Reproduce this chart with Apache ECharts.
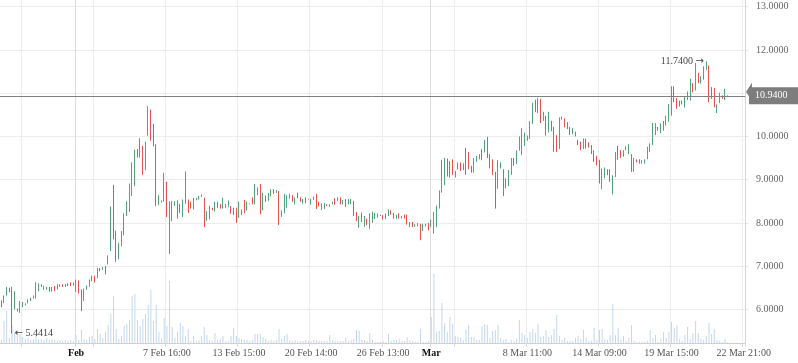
<!DOCTYPE html>
<html><head><meta charset="utf-8">
<script src="https://cdn.jsdelivr.net/npm/echarts@6/dist/echarts.min.js"></script>
<style>html,body{margin:0;padding:0;background:#fff}#chart{width:798px;height:363px}</style>
</head><body><div id="chart"></div>
<script>
// ---------- data ----------
const categoryCount = 279;
const tickIndex = [8, 28, 35, 62, 89, 116, 143, 161, 170, 197, 224, 251, 278];
const tickText  = ['', 'Feb', '', '7 Feb 16:00', '13 Feb 15:00', '20 Feb 14:00', '26 Feb 13:00', 'Mar', '', '8 Mar 11:00', '14 Mar 09:00', '19 Mar 15:00', '22 Mar 21:00'];
const monthLabels = ['Feb', 'Mar'];
const yTickValues = [6, 7, 8, 9, 10, 11, 12, 13];
const lastPrice = 10.94;

// [open, close, low, high]
const candles = [
[6.21,6.05,6.05,6.21],[6.14,6.32,6.14,6.32],[6.32,6.52,6.32,6.52],[6.50,6.40,6.40,6.50],[6.52,5.98,5.4414,6.52],
[6.00,6.42,6.00,6.42],[6.02,5.95,5.95,6.02],[5.92,6.19,5.92,6.19],[6.05,6.17,6.05,6.17],[6.09,6.14,6.09,6.14],
[6.14,6.23,6.14,6.23],[6.19,6.27,6.19,6.27],[6.25,6.32,6.25,6.32],[6.25,6.63,6.25,6.63],[6.42,6.60,6.42,6.60],
[6.58,6.52,6.52,6.58],[6.45,6.55,6.45,6.55],[6.45,6.52,6.45,6.52],[6.52,6.41,6.41,6.52],[6.52,6.41,6.41,6.52],
[6.54,6.42,6.42,6.54],[6.46,6.58,6.46,6.58],[6.58,6.52,6.52,6.58],[6.58,6.52,6.52,6.58],[6.58,6.52,6.52,6.58],
[6.60,6.54,6.54,6.60],[6.62,6.54,6.54,6.62],[6.62,6.55,6.55,6.62],[6.40,6.69,6.40,6.69],[6.67,6.37,6.37,6.67],
[6.46,5.96,5.96,6.46],[6.19,6.48,6.19,6.48],[6.45,6.55,6.45,6.55],[6.52,6.69,6.52,6.69],[6.78,6.65,6.65,6.78],
[6.78,6.62,6.62,6.78],[6.72,6.96,6.72,6.96],[6.88,6.96,6.88,6.96],[6.91,6.98,6.91,6.98],[7.00,6.81,6.81,7.00],
[7.04,7.25,7.04,7.25],[7.35,8.38,7.35,8.38],[8.88,7.62,7.62,8.88],[7.82,7.10,7.10,7.82],[7.16,7.53,7.16,7.53],
[7.46,7.81,7.46,7.81],[7.71,8.22,7.71,8.22],[8.16,8.50,8.16,8.50],[8.25,8.91,8.25,8.91],[8.62,9.40,8.62,9.40],
[8.85,9.69,8.85,9.69],[9.71,9.51,9.51,9.71],[9.51,9.96,9.51,9.96],[9.78,9.11,9.11,9.78],[9.22,9.88,9.22,9.88],
[10.02,10.70,10.02,10.70],[10.62,9.90,9.90,10.62],[10.29,9.77,9.77,10.29],[9.82,8.39,8.39,9.82],[8.41,8.64,8.41,8.64],
[8.50,8.50,8.47,8.52],[8.49,9.16,8.49,9.16],[8.95,8.13,8.13,8.95],[8.10,8.50,7.28,8.50],[8.04,8.50,8.04,8.50],
[8.39,8.50,8.39,8.50],[8.52,8.10,8.10,8.52],[8.44,8.23,8.23,8.44],[8.13,8.54,8.13,8.54],[8.44,9.19,8.44,9.19],
[8.54,8.23,8.23,8.54],[8.49,8.33,8.33,8.49],[8.31,8.58,8.31,8.58],[8.52,8.58,8.52,8.58],[8.54,8.62,8.54,8.62],
[8.60,8.66,8.60,8.66],[8.58,7.90,7.90,8.58],[8.05,8.27,8.05,8.27],[8.08,8.40,8.08,8.40],[8.35,8.29,8.29,8.35],
[8.26,8.49,8.26,8.49],[8.49,8.35,8.35,8.49],[8.44,8.33,8.33,8.44],[8.33,8.58,8.33,8.58],[8.44,8.35,8.35,8.44],
[8.36,8.52,8.36,8.52],[8.39,8.21,8.21,8.39],[8.35,8.18,8.18,8.35],[8.35,8.00,8.00,8.35],[8.12,8.49,8.12,8.49],
[8.18,8.31,8.18,8.31],[8.53,8.22,8.22,8.53],[8.29,8.49,8.29,8.49],[8.44,8.44,8.43,8.45],[8.59,8.43,8.43,8.59],
[8.43,8.90,8.43,8.90],[8.64,8.82,8.64,8.82],[8.90,8.20,8.20,8.90],[8.29,8.70,8.29,8.70],[8.63,8.49,8.49,8.63],
[8.51,8.69,8.51,8.69],[8.61,8.78,8.61,8.78],[8.78,8.67,8.67,8.78],[8.69,8.76,8.69,8.76],[8.74,7.95,7.95,8.74],
[8.14,8.29,8.14,8.29],[8.22,8.67,8.22,8.67],[8.35,8.64,8.35,8.64],[8.56,8.67,8.56,8.67],[8.64,8.49,8.49,8.64],
[8.43,8.59,8.43,8.59],[8.70,8.57,8.57,8.70],[8.59,8.49,8.49,8.59],[8.44,8.55,8.44,8.55],[8.59,8.45,8.45,8.59],
[8.55,8.55,8.54,8.56],[8.42,8.56,8.42,8.56],[8.53,8.61,8.53,8.61],[8.67,8.32,8.32,8.67],[8.49,8.38,8.38,8.49],
[8.30,8.45,8.30,8.45],[8.32,8.46,8.32,8.46],[8.43,8.39,8.39,8.43],[8.37,8.43,8.37,8.43],[8.43,8.49,8.43,8.49],
[8.57,8.42,8.42,8.57],[8.59,8.51,8.51,8.59],[8.59,8.43,8.43,8.59],[8.43,8.53,8.43,8.53],[8.55,8.37,8.37,8.55],
[8.43,8.55,8.43,8.55],[8.43,8.55,8.43,8.55],[8.51,8.16,8.16,8.51],[8.25,8.04,8.04,8.25],[7.89,8.16,7.89,8.16],
[8.24,8.02,8.02,8.24],[7.91,8.16,7.91,8.16],[8.10,7.95,7.95,8.10],[7.86,8.22,7.86,8.22],[8.00,8.26,8.00,8.26],
[8.09,8.23,8.09,8.23],[8.12,8.22,8.12,8.22],[8.17,8.17,8.16,8.19],[8.18,8.08,8.08,8.18],[8.09,8.22,8.09,8.22],
[8.16,8.31,8.16,8.31],[8.29,8.19,8.19,8.29],[8.23,8.10,8.10,8.23],[8.10,8.19,8.10,8.19],[8.22,8.10,8.10,8.22],
[8.10,8.16,8.10,8.16],[8.19,8.10,8.10,8.19],[8.19,7.96,7.96,8.19],[7.90,8.02,7.90,8.02],[8.02,7.90,7.90,8.02],
[7.91,7.97,7.91,7.97],[7.92,8.00,7.92,8.00],[7.98,7.60,7.60,7.98],[7.81,7.98,7.81,7.98],[7.98,7.92,7.92,7.98],
[8.00,7.83,7.83,8.00],[7.91,8.08,7.91,8.08],[7.75,8.25,7.75,8.25],[7.90,8.40,7.90,8.40],[8.33,8.75,8.33,8.75],
[8.70,9.46,8.70,9.46],[8.87,9.50,8.87,9.50],[9.49,9.07,9.07,9.49],[9.43,9.05,9.05,9.43],[9.47,9.11,9.11,9.47],
[9.05,9.20,9.05,9.20],[9.24,9.40,9.24,9.40],[9.40,9.20,9.20,9.40],[9.22,9.38,9.22,9.38],[9.73,9.11,9.11,9.73],
[9.64,9.24,9.24,9.64],[9.32,9.16,9.16,9.32],[9.16,9.50,9.16,9.50],[9.41,9.55,9.41,9.55],[9.47,9.59,9.47,9.59],
[9.71,9.45,9.45,9.71],[9.63,9.92,9.63,9.92],[9.99,9.50,9.50,9.99],[9.59,9.26,9.26,9.59],[9.47,9.11,9.11,9.47],
[9.18,8.33,8.33,9.18],[8.79,9.45,8.79,9.45],[9.26,9.40,9.26,9.40],[9.24,8.62,8.62,9.24],[9.03,8.80,8.80,9.03],
[8.85,9.22,8.85,9.22],[9.11,9.50,9.11,9.50],[9.50,9.32,9.32,9.50],[9.36,9.68,9.36,9.68],[9.67,10.00,9.67,10.00],
[9.57,10.19,9.57,10.19],[9.78,10.09,9.78,10.09],[9.90,10.02,9.90,10.02],[9.94,10.35,9.94,10.35],[10.29,10.78,10.29,10.78],
[10.85,10.56,10.56,10.85],[10.54,10.89,10.54,10.89],[10.87,10.31,10.31,10.87],[10.36,10.57,10.36,10.57],[10.48,10.02,10.02,10.48],
[10.09,10.57,10.09,10.57],[10.36,10.12,10.12,10.36],[10.22,9.64,9.64,10.22],[10.03,9.64,9.64,10.03],[9.71,10.44,9.71,10.44],
[10.46,10.39,10.39,10.46],[10.42,10.21,10.21,10.42],[10.33,10.17,10.17,10.33],[10.22,10.03,10.03,10.22],[10.05,10.19,10.05,10.19],
[10.11,10.00,10.00,10.11],[9.92,9.80,9.80,9.92],[9.88,9.68,9.68,9.88],[9.71,9.95,9.71,9.95],[9.95,9.72,9.72,9.95],
[9.86,9.74,9.74,9.86],[9.80,9.59,9.59,9.80],[9.68,9.41,9.41,9.68],[9.55,9.33,9.33,9.55],[9.46,8.91,8.91,9.46],
[8.78,9.26,8.78,9.26],[9.03,9.28,9.03,9.28],[9.24,9.10,9.10,9.24],[9.24,8.95,8.95,9.24],[8.66,9.10,8.66,9.10],
[9.06,9.64,9.06,9.64],[9.78,9.46,9.46,9.78],[9.68,9.50,9.50,9.68],[9.53,9.68,9.53,9.68],[9.68,9.77,9.68,9.77],
[9.59,9.82,9.59,9.82],[9.59,9.18,9.18,9.59],[9.18,9.50,9.18,9.50],[9.47,9.40,9.40,9.47],[9.47,9.37,9.37,9.47],
[9.37,9.45,9.37,9.45],[9.37,9.47,9.37,9.47],[9.47,9.76,9.47,9.76],[9.64,9.84,9.64,9.84],[9.80,10.31,9.80,10.31],
[10.03,10.31,10.03,10.31],[10.22,10.13,10.13,10.22],[10.08,10.30,10.08,10.30],[10.13,10.36,10.13,10.36],[10.25,10.48,10.25,10.48],
[10.34,10.75,10.34,10.75],[10.48,11.16,10.48,11.16],[11.16,10.79,10.79,11.16],[10.89,10.64,10.64,10.89],[10.69,10.83,10.69,10.83],
[10.83,10.74,10.74,10.83],[10.67,10.92,10.67,10.92],[10.84,11.04,10.84,11.04],[10.83,11.33,10.83,11.33],[11.23,11.02,11.02,11.23],
[11.06,11.70,11.06,11.70],[11.47,11.23,11.23,11.47],[11.22,11.39,11.22,11.39],[11.31,11.62,11.31,11.62],[11.54,11.74,11.54,11.74],
[11.64,10.79,10.79,11.64],[11.14,10.87,10.87,11.14],[11.12,10.67,10.67,11.12],[10.54,10.74,10.54,10.74],[10.77,11.01,10.77,11.01],
[10.95,10.87,10.87,10.95],[10.84,11.10,10.84,11.10],[10.94,10.94,10.93,10.95]
];

// volume (relative units)
const volume = [
3,22,32,5,17,10,12,9,6,4,5,3,4,9,4,4,3,5,3,4,3,2,3,2,3,2,3,2,8,3,13,4,3,6,7,4,14,9,5,11,18,29,47,14,
4,7,17,19,23,47,49,23,17,24,29,38,53,22,38,11,4,25,17,62,16,5,11,20,17,7,14,2,7,2,3,7,16,8,3,2,10,3,4,7,2,2,7,15,7,5,4,
3,3,2,3,9,9,9,6,4,2,3,2,3,14,4,7,9,3,2,3,2,2,2,3,2,2,3,3,2,2,2,2,8,3,2,2,2,2,5,2,3,4,13,12,3,3,2,
10,3,1,1,1,2,1,9,2,3,3,4,2,2,6,3,2,1,1,14,1,1,2,26,69,11,12,40,20,11,26,19,7,6,5,3,13,18,6,6,3,3,17,19,18,5,12,
13,18,5,3,4,1,3,2,4,23,10,8,5,11,14,10,19,6,7,13,6,8,14,28,7,3,5,2,2,2,5,7,4,13,5,2,2,15,3,13,14,4,3,8,39,8,15,
3,7,2,5,18,2,1,1,1,1,2,13,5,8,1,4,11,5,11,21,15,18,4,2,8,16,4,10,22,10,4,3,7,20,9,14,3,2,1,4,1
];

// ---------- chart ----------
const categories = Array.from({length: categoryCount}, (_, i) => {
  const k = tickIndex.indexOf(i);
  return (k >= 0 && tickText[k]) ? tickText[k] : 'slot ' + i;
});
const tickSet = new Set(tickIndex);
const labelSet = new Set(tickIndex.filter((_, k) => tickText[k] !== ''));
const isMonth = t => monthLabels.includes(t);
const splitColors = tickIndex.map((_, k) => isMonth(tickText[k]) ? '#dedede' : '#ededed').concat(['#ededed']);

const UP = '#4fa67a', DOWN = '#e5534b';
const serif = "'Liberation Serif', 'DejaVu Serif', serif";
const arrowFont = "'DejaVu Sans', sans-serif";

const chart = echarts.init(document.getElementById('chart'), null, {renderer: 'canvas'});
chart.setOption({
  animation: false,
  backgroundColor: '#ffffff',
  grid: {left: 0, right: 53, top: 0, bottom: 20, outerBoundsMode: 'none'},
  xAxis: {
    type: 'category', data: categories, boundaryGap: true,
    axisLine: {show: true, lineStyle: {color: '#cfcfcf', width: 1}},
    axisTick: {show: true, interval: i => tickSet.has(i), length: 4, lineStyle: {color: '#d9d9d9'}},
    axisLabel: {
      interval: i => labelSet.has(i), margin: 5, fontSize: 10, fontFamily: serif,
      color: '#555555',
      formatter: v => isMonth(v) ? '{m|' + v + '}' : v,
      rich: {m: {fontSize: 10, fontFamily: serif, fontWeight: 'bold', color: '#111111'}}
    },
    splitLine: {show: true, interval: i => tickSet.has(i), lineStyle: {color: splitColors, width: 1}}
  },
  yAxis: [{
    type: 'value', position: 'right', min: 5.222, max: 13.155,
    axisLine: {show: true, lineStyle: {color: '#d6d6d6'}},
    axisTick: {show: true, length: 3, customValues: yTickValues, lineStyle: {color: '#e0e0e0'}},
    axisLabel: {customValues: yTickValues, formatter: v => v.toFixed(4), margin: 11, fontSize: 10, fontFamily: serif, color: '#666666'},
    splitLine: {show: true, lineStyle: {color: '#ededed', width: 1}}
  }, {
    type: 'value', min: 0, max: 343, show: false
  }],
  series: [{
    type: 'bar', name: 'Volume', xAxisIndex: 0, yAxisIndex: 1, data: volume,
    barWidth: 1, silent: true, z: 1,
    itemStyle: {color: '#c3d7ee'}
  }, {
    type: 'candlestick', name: 'Price', xAxisIndex: 0, yAxisIndex: 0, data: candles,
    barWidth: 0.6, z: 3,
    itemStyle: {color: UP, color0: DOWN, borderColor: UP, borderColor0: DOWN, borderColorDoji: '#8a8a8a', borderWidth: 1},
    markLine: {
      silent: true, symbol: ['none', 'triangle'], symbolSize: [18, 6], symbolRotate: 90, symbolOffset: [0, 4],
      lineStyle: {color: '#808080', width: 1, type: 'solid'},
      itemStyle: {color: '#7d7d7d'},
      label: {
        show: true, position: 'end', distance: 4, formatter: p => p.value.toFixed(4),
        backgroundColor: '#7d7d7d', color: '#ffffff', padding: [4, 12, 3, 6], borderRadius: [0, 2, 2, 0],
        fontSize: 10, fontFamily: serif
      },
      data: [{yAxis: lastPrice}]
    },
    markPoint: {
      silent: true, symbol: 'circle', symbolSize: 1, itemStyle: {color: 'rgba(0,0,0,0)'},
      data: [
        {type: 'min', valueDim: 'lowest', label: {show: true, position: 'right', distance: 2,
          formatter: p => '{a|\u2190} ' + p.value.toFixed(4), color: '#444', fontSize: 10, fontFamily: serif,
          rich: {a: {fontFamily: arrowFont, fontSize: 10, color: '#444'}}}},
        {type: 'max', valueDim: 'highest', label: {show: true, position: 'left', distance: 2,
          formatter: p => p.value.toFixed(4) + ' {a|\u2192}', color: '#444', fontSize: 10, fontFamily: serif,
          rich: {a: {fontFamily: arrowFont, fontSize: 10, color: '#444'}}}}
      ]
    }
  }]
});
</script></body></html>
